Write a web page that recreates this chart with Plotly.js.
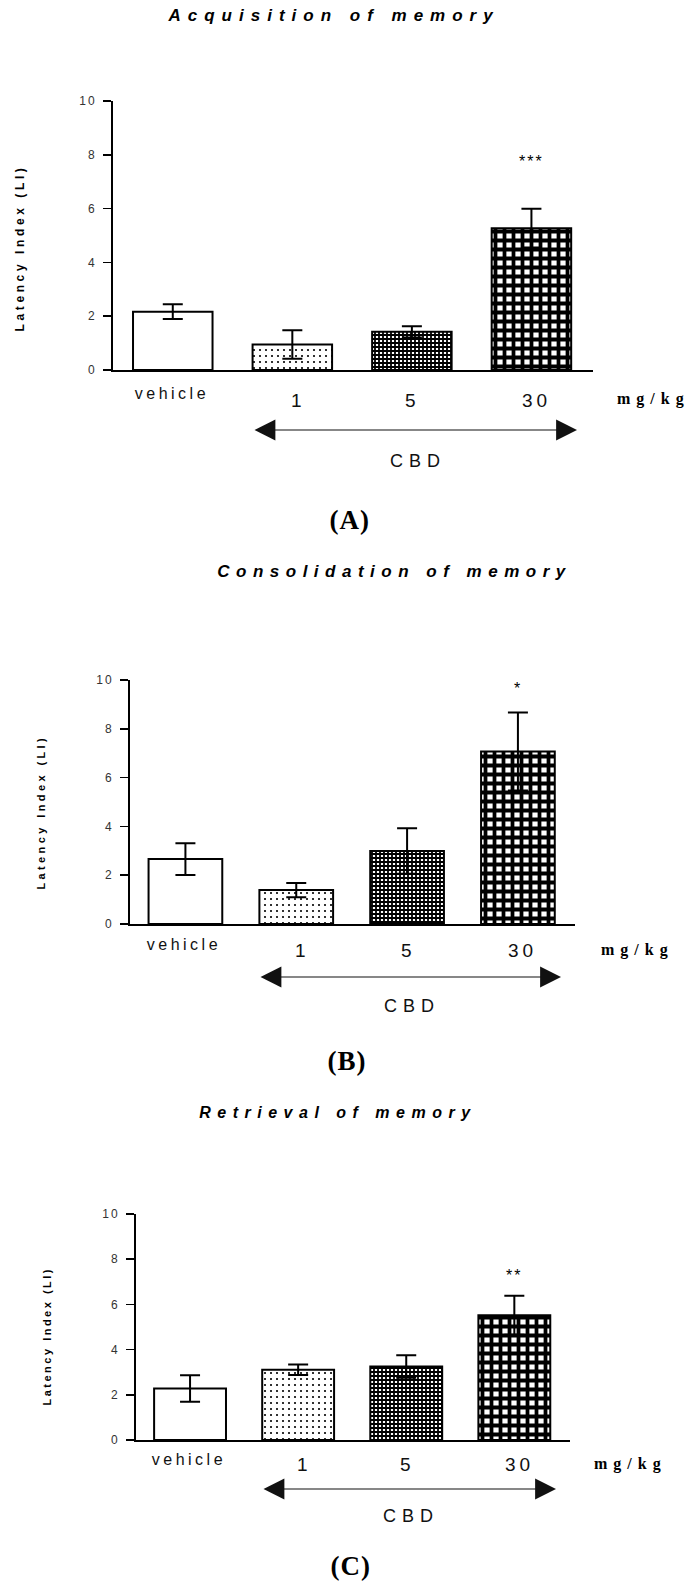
<!DOCTYPE html>
<html>
<head>
<meta charset="utf-8">
<script src="https://cdn.plot.ly/plotly-3.0.1.min.js"></script>
<style>
  html, body { margin: 0; padding: 0; background: #fff; }
  #chart { width: 698px; height: 1594px; }
</style>
</head>
<body>
<div id="chart"></div>
<script>
// data
const doses = ["vehicle", "1", "5", "30"];
const acqMean = [2.17, 0.95, 1.42, 5.27];
const acqSem = [0.27, 0.53, 0.21, 0.72];
const conMean = [2.66, 1.39, 2.99, 7.07];
const conSem = [0.65, 0.29, 0.93, 1.60];
const retMean = [2.28, 3.11, 3.25, 5.52];
const retSem = [0.59, 0.23, 0.50, 0.86];
const yTicks = [0, 2, 4, 6, 8, 10];
const titles = ["Acquisition of memory", "Consolidation of memory", "Retrieval of memory"];
const tags = ["(A)", "(B)", "(C)"];
const stars = ["***", "*", "**"];

const W = 698, H = 1594;
function px(x){ return x / W; }
function py(y){ return 1 - y / H; }

// layout of each panel in page pixels
const panels = [
  {mean: acqMean, sem: acqSem, x0: 113, x1: 593, y0: 101, y1: 370,
   title: [334, 16, 17, 7], ytitle: [20, 248, 12, 3.6], veh: 393, num: 400,
   mg: [653, 399], arrow: [253, 577, 430], cbd: [418, 461], tag: [349, 520], starShift: 47},
  {mean: conMean, sem: conSem, x0: 130, x1: 575, y0: 680, y1: 924,
   title: [395, 571, 17, 6.5], ytitle: [41, 812, 11, 3.4], veh: 944, num: 950,
   mg: [637, 950], arrow: [259, 561, 977], cbd: [412, 1006], tag: [347, 1061], starShift: 24},
  {mean: retMean, sem: retSem, x0: 136, x1: 570, y0: 1214, y1: 1440,
   title: [338, 1112, 16, 6.5], ytitle: [47, 1336, 11, 2.5], veh: 1459, num: 1464,
   mg: [630, 1464], arrow: [262, 556, 1489], cbd: [411, 1516], tag: [350, 1566], starShift: 20}
];

const sans = "Liberation Sans, Arial, sans-serif";
const serif = "Liberation Serif, Times New Roman, serif";

const traces = [];
const layout = {
  width: W, height: H,
  margin: {l: 0, r: 0, t: 0, b: 0},
  paper_bgcolor: "white", plot_bgcolor: "white",
  showlegend: false,
  annotations: []
};
const spacing = [];

function note(a, sp){
  layout.annotations.push(Object.assign({showarrow: false, xanchor: "center", yanchor: "middle"}, a));
  spacing.push(sp || 0);
}

panels.forEach(function(p, i){
  const sfx = i === 0 ? "" : String(i + 1);
  const xa = "x" + sfx, ya = "y" + sfx;

  traces.push({
    type: "bar",
    x: doses,
    y: p.mean,
    xaxis: xa, yaxis: ya,
    width: 0.665,
    marker: {
      color: "white",
      line: {color: "black", width: 2},
      pattern: {
        shape: ["", ".", "+", "+"],
        size: [8, 6, 4, 9],
        solidity: [0.2, 0.1, 0.7, 0.66],
        fgcolor: "black",
        bgcolor: "white",
        fillmode: "replace"
      }
    },
    error_y: {type: "data", array: p.sem, visible: true, color: "black", thickness: 2, width: 10},
    hoverinfo: "skip"
  });

  layout["xaxis" + sfx] = {
    domain: [px(p.x0), px(p.x1)],
    anchor: ya,
    type: "category",
    range: [-0.5, 3.515],
    showline: true, linecolor: "black", linewidth: 2,
    ticks: "", showticklabels: false,
    showgrid: false, zeroline: false, fixedrange: true
  };
  layout["yaxis" + sfx] = {
    domain: [py(p.y1), py(p.y0)],
    anchor: xa,
    range: [0, 10],
    tickmode: "array", tickvals: yTicks,
    ticks: "outside", ticklen: 8, tickwidth: 1.5, tickcolor: "black",
    ticklabelstandoff: 4,
    tickfont: {family: sans, size: 12, color: "#333"},
    showline: true, linecolor: "black", linewidth: 2,
    showgrid: false, zeroline: false, fixedrange: true
  };

  // panel title
  note({xref: "paper", yref: "paper", x: px(p.title[0]), y: py(p.title[1]), text: titles[i],
        font: {family: sans, size: p.title[2], color: "black", weight: "bold", style: "italic"}}, p.title[3]);
  // y axis title
  note({xref: "paper", yref: "paper", x: px(p.ytitle[0]), y: py(p.ytitle[1]), text: "Latency Index (LI)",
        textangle: -90, font: {family: sans, size: p.ytitle[2], color: "black", weight: "bold"}}, p.ytitle[3]);
  // category labels (x given as category index)
  const shifts = [-1, 6, 1, 5];
  doses.forEach(function(d, j){
    const isVeh = j === 0;
    note({xref: xa, yref: "paper", x: j, y: py(isVeh ? p.veh : p.num), xshift: shifts[j], text: d,
          font: {family: sans, size: isVeh ? 16 : 19, color: "#111"}}, isVeh ? 3.5 : 4);
  });
  note({xref: "paper", yref: "paper", x: px(p.mg[0]), y: py(p.mg[1]), text: "mg/kg",
        font: {family: serif, size: 16, color: "black", weight: "bold"}}, 6);
  // CBD arrow
  note({xref: "paper", yref: "paper", x: px(p.arrow[1]), y: py(p.arrow[2]),
        axref: "pixel", ayref: "pixel", ax: -(p.arrow[1] - p.arrow[0]), ay: 0,
        text: "", showarrow: true, arrowside: "end+start",
        arrowhead: 2, startarrowhead: 2, arrowsize: 3.8, startarrowsize: 3.8,
        arrowwidth: 1.1, arrowcolor: "#111", standoff: 0, startstandoff: 0}, 0);
  note({xref: "paper", yref: "paper", x: px(p.cbd[0]), y: py(p.cbd[1]), text: "CBD",
        font: {family: sans, size: 18, color: "#111"}}, 6);
  // significance
  note({xref: xa, yref: ya, x: 3, y: p.mean[3] + p.sem[3], yshift: p.starShift, text: stars[i],
        font: {family: sans, size: 16, color: "black"}}, 2);
  // panel tag
  note({xref: "paper", yref: "paper", x: px(p.tag[0]), y: py(p.tag[1]), text: tags[i],
        font: {family: serif, size: 27, color: "black", weight: "bold"}}, 1);
});

const gd = document.getElementById("chart");
Plotly.newPlot(gd, traces, layout, {staticPlot: true}).then(function(){
  gd.querySelectorAll("g.annotation").forEach(function(g){
    const sp = spacing[+g.getAttribute("data-index")];
    if (sp) g.querySelectorAll("text").forEach(function(t){ t.style.letterSpacing = sp + "px"; });
  });
  gd.querySelectorAll(".yaxislayer-above text").forEach(function(t){ t.style.letterSpacing = "2px"; });
});
</script>
</body>
</html>
